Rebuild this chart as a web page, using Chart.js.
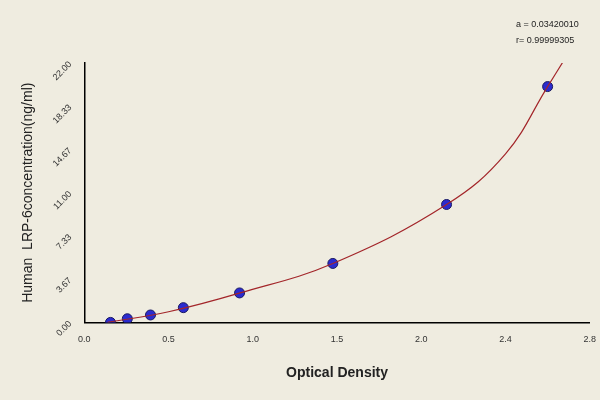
<!DOCTYPE html>
<html><head><script src="https://cdn.jsdelivr.net/npm/chart.js@4"></script>
<style>body{margin:0;background:#efece0}#w{width:600px;height:400px;position:relative}
#t{position:absolute;left:516px;top:16px;font:9px Arial;color:#222;text-align:left;line-height:16px}</style></head>
<body><div id="w"><canvas id="c" width="600" height="400"></canvas><div id="t">a = 0.03420010<br>r= 0.99999305</div></div>
<script>
const odX=[0.124,0.204,0.314,0.47,0.737,1.18,1.72,2.2];
const concY=[0,0.31,0.63,1.25,2.5,5,10,20];
const curveX=[0.11,0.4,0.74,1.18,1.72,2.0,2.2,2.28];
const curveY=[0,0.9,2.5,5,10,14.3,20,22.3];
const xTickLabels=["0.0","0.5","1.0","1.5","2.0","2.4","2.8"];
const yTickLabels=["0.00","3.67","7.33","11.00","14.67","18.33","22.00"];
const yTickVals=[0,3.67,7.33,11,14.67,18.33,22];
new Chart(document.getElementById('c'),{type:'scatter',data:{datasets:[
{type:'line',data:curveX.map((x,i)=>({x,y:curveY[i]})),borderColor:'#a3262a',borderWidth:1.2,pointRadius:0,tension:0.4,fill:false},
{data:odX.map((x,i)=>({x,y:concY[i]})),backgroundColor:'#2b2bd0',borderColor:'#1a1a60',borderWidth:1,pointRadius:5}]},
options:{animation:false,responsive:false,layout:{padding:{top:63,right:10,left:16,bottom:14}},plugins:{legend:{display:false},tooltip:{enabled:false}},
scales:{x:{type:'linear',min:0,max:2.4,clip:false,afterBuildTicks:a=>{a.ticks=xTickLabels.map((_,i)=>({value:i*0.4}))},
ticks:{callback:(v,i)=>xTickLabels[i],font:{size:9},color:'#333',maxRotation:0,padding:4},
grid:{display:false,drawTicks:true},border:{color:'#000',width:1.5},
title:{display:true,text:'Optical Density',font:{size:14,weight:'bold'},color:'#222',padding:{top:16}}},
y:{min:0,max:22,afterBuildTicks:a=>{a.ticks=yTickVals.map(v=>({value:v}))},
ticks:{callback:(v,i)=>yTickLabels[i],font:{size:9},color:'#333',maxRotation:45,minRotation:45,padding:6},
grid:{display:false},border:{color:'#000',width:1.5},
title:{display:true,text:'Human  LRP-6concentration(ng/ml)',font:{size:14},color:'#222'}}}},
});
</script></body></html>
